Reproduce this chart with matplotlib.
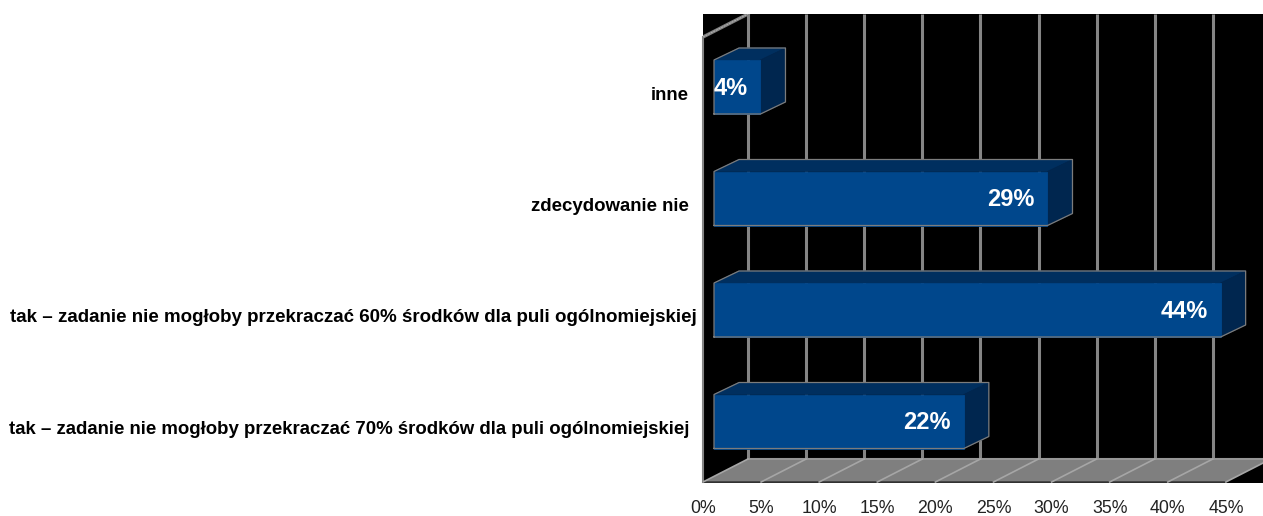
import matplotlib
matplotlib.use("Agg")
import matplotlib.pyplot as plt
from matplotlib.transforms import ScaledTranslation

plt.rcParams['font.family'] = ['Liberation Sans', 'DejaVu Sans']

# bottom to top, as the axis runs
categories = [
    'tak – zadanie nie mogłoby przekraczać 70% środków dla puli ogólnomiejskiej',
    'tak – zadanie nie mogłoby przekraczać 60% środków dla puli ogólnomiejskiej',
    'zdecydowanie nie',
    'inne',
]
values = [21.5, 43.6, 28.7, 4.0]
value_labels = ['22%', '44%', '29%', '4%']
x_ticks = [0, 5, 10, 15, 20, 25, 30, 35, 40, 45]
x_tick_labels = ['0%', '5%', '10%', '15%', '20%', '25%', '30%', '35%', '40%', '45%']

W, H = 1263, 516
PX_X = 11.62   # pixels per percent
PX_Y = 111.5   # pixels per category

fig = plt.figure(figsize=(W / 100, H / 100), dpi=100, facecolor='white')
ax = fig.add_axes([703 / W, (H - 483) / H, 560 / W, 469 / H], facecolor='black')
ax.set_xlim(0, 560 / PX_X)
ax.set_ylim((421.5 - 483) / PX_Y, (421.5 - 14) / PX_Y)
for s in ax.spines.values():
    s.set_visible(False)

# wall / floor depth and bar depth
wall_dx = 45 / PX_X
wall_dy = 23 / PX_Y
bar_dx = 25 / PX_X
bar_dy = 12 / PX_Y
bar_start = 11 / PX_X
bar_h = 54 / PX_Y
y_min, y_max = ax.get_ylim()
floor_y = y_min + 1 / PX_Y
x_end = x_ticks[-1]

# floor
ax.fill([0, wall_dx, x_end + wall_dx, x_end], [floor_y, floor_y + wall_dy, floor_y + wall_dy, floor_y],
        color='#7f7f7f', lw=0, zorder=1)
ax.plot([0, x_end], [floor_y, floor_y], color='#3c3c3c', lw=1.2, zorder=2)
ax.plot([wall_dx, x_end + wall_dx], [floor_y + wall_dy] * 2, color='#969696', lw=1.5, zorder=2)

# grid
for t in x_ticks:
    ax.plot([t + wall_dx, t + wall_dx], [floor_y + wall_dy, y_max], color='#858585', lw=2.2, zorder=1.5,
            solid_capstyle='butt')
    ax.plot([t, t + wall_dx], [floor_y, floor_y + wall_dy], color='#a6a6a6', lw=1.2, zorder=2)
ax.plot([0, 0], [floor_y, y_max - wall_dy], color='#858585', lw=1.5, zorder=1.5, clip_on=False)
ax.plot([0, wall_dx], [y_max - wall_dy, y_max], color='#808080', lw=2.4, zorder=1.5)
ax.plot([0, wall_dx], [y_max - wall_dy, y_max], color='#b0b0b0', lw=0.7, ls=(0, (2, 1)), zorder=1.6)

# bars
for i, v in enumerate(values):
    x0, x1 = bar_start, bar_start + v
    y0, y1 = i - bar_h / 2, i + bar_h / 2
    ax.fill([x0, x0 + bar_dx, x1 + bar_dx, x1], [y1, y1 + bar_dy, y1 + bar_dy, y1],
            facecolor='#002f5f', edgecolor='#002f5f', lw=0.6, zorder=3)
    ax.fill([x1, x1 + bar_dx, x1 + bar_dx, x1], [y0, y0 + bar_dy, y1 + bar_dy, y1],
            facecolor='#00264f', edgecolor='#00264f', lw=0.6, zorder=3)
    ax.fill([x0, x1, x1, x0], [y0, y0, y1, y1], facecolor='#00478c', edgecolor='#00478c', lw=0.6, zorder=3.1)
    ax.plot([x0, x1, x1 + bar_dx, x1 + bar_dx, x0 + bar_dx, x0, x0],
            [y0, y0, y0 + bar_dy, y1 + bar_dy, y1 + bar_dy, y1, y0],
            color='#7c7c7c', lw=0.9, zorder=4, solid_joinstyle='round')
    ax.annotate(value_labels[i], (x1, i), xytext=(-9.5, -1), textcoords='offset points',
                ha='right', va='center', color='white', fontsize=17, fontweight='bold', zorder=5)

ax.set_xticks(x_ticks)
ax.set_xticklabels(x_tick_labels, fontsize=12.8, color='#222222')
ax.set_yticks(range(len(categories)))
ax.set_yticklabels(categories, fontweight='bold', color='black')
ax.tick_params(axis='both', length=0)
ax.tick_params(axis='x', pad=12.5)
ax.tick_params(axis='y', pad=11)

# the source labels do not share a right edge or a width
label_sizes = [13.45, 13.5, 13.4, 13.4]
label_shift_px = [2, 9, 1, 1]
for lab, size, shift in zip(ax.get_yticklabels(), label_sizes, label_shift_px):
    lab.set_fontsize(size)
    lab.set_transform(lab.get_transform() + ScaledTranslation(shift / 100, -6 / 100, fig.dpi_scale_trans))

fig.savefig('out.png', dpi=100)
